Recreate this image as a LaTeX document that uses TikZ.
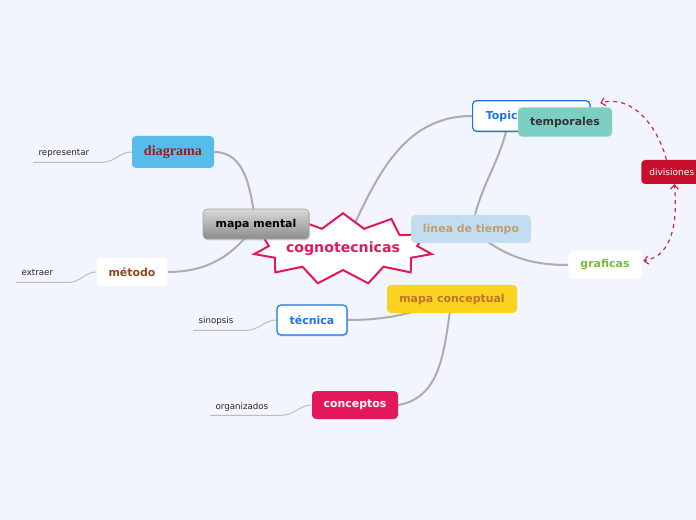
\documentclass[tikz,border=0pt]{standalone}
\usepackage{fontspec}
\setmainfont{DejaVu Sans}
\newfontfamily\timesbold{Liberation Serif}
\usepackage{tikz}
\usetikzlibrary{shapes.symbols, arrows.meta, shadows}

\pgfdeclarelayer{paper}
\pgfdeclarelayer{wires}
\pgfsetlayers{paper,wires,main}

\definecolor{pagebg}{HTML}{F2F5FE}
\definecolor{branchgray}{HTML}{ADADAD}
\definecolor{twiggray}{HTML}{BDBDBD}
\definecolor{rosered}{HTML}{E3185B}
\definecolor{skyblue}{HTML}{56BCEC}
\definecolor{darkred}{HTML}{9C1D1D}
\definecolor{rust}{HTML}{94461C}
\definecolor{topicblue}{HTML}{1A73E8}
\definecolor{tealbox}{HTML}{7ECFC3}
\definecolor{crimsonbox}{HTML}{C8102E}
\definecolor{paleblue}{HTML}{C3DDF0}
\definecolor{sandtext}{HTML}{C49C69}
\definecolor{leafgreen}{HTML}{7BBB3C}
\definecolor{sunyellow}{HTML}{F9D31F}
\definecolor{ochre}{HTML}{C0722B}
\definecolor{linkred}{HTML}{CC2A4E}

\tikzset{
  box/.style={rounded corners=3pt, inner sep=0pt, font=\bfseries\fontsize{8.2}{10}\selectfont},
  leaf/.style={anchor=base west, inner xsep=4pt, inner ysep=3pt, text depth=1.5pt,
    font=\fontsize{6.5}{8}\selectfont, text=black!85},
  branch/.style={draw=branchgray, line width=1.5pt},
  twig/.style={draw=twiggray, line width=0.75pt},
  link/.style={draw=linkred, dashed, line width=0.9pt, -{Straight Barb[length=3pt,width=6pt]}},
  lift/.style={drop shadow={opacity=0.3, shadow xshift=0.8pt, shadow yshift=-1pt}}
}

\begin{document}
\begin{tikzpicture}[x=0.75pt, y=-0.75pt]
            \begin{pgfonlayer}{paper}
            \fill[pagebg] (0,0) rectangle (696,520);
            \end{pgfonlayer}
            \useasboundingbox (0,0) rectangle (696,520);

            \node[starburst, starburst points=11, starburst point height=11pt, random starburst=0,
              inner xsep=-3pt, inner ysep=6pt, draw=rosered, line width=1.5pt, fill=white,
              text=rosered, font=\bfseries\fontsize{10.6}{12}\selectfont] (cogno) at (343,249) {cognotecnicas};

            \node[box, lift, top color=black!15, bottom color=black!45, draw=black!35,
              minimum width=79.5pt, minimum height=22.5pt] (mental) at (256,224) {mapa mental};
            \node[box, fill=skyblue, text=darkred, font=\timesbold\bfseries\fontsize{10.6}{12}\selectfont,
              minimum width=61.5pt, minimum height=24pt] (diagrama) at (173,152) {diagrama};
            \node[box, fill=white, text=rust, minimum width=53pt, minimum height=21pt] (metodo) at (132,272) {método};

            \node[box, lift, fill=white, draw=topicblue, line width=0.9pt, text=topicblue, anchor=west,
              inner xsep=10pt, text width=68pt, align=left, minimum height=23pt] (topic) at (472,116) {Topic};
            \node[box, fill=tealbox, text=black!80, minimum width=70.5pt, minimum height=22pt] (temporales) at (565,122) {temporales};
            \node[box, fill=crimsonbox, text=white, font=\fontsize{6.8}{9}\selectfont, anchor=west,
              inner xsep=6pt, minimum height=18pt] (divisiones) at (641,172) {divisiones};
            \node[box, fill=paleblue, text=sandtext, minimum width=90pt, minimum height=21pt] (linea) at (471,229) {linea de tiempo};
            \node[box, fill=white, text=leafgreen, minimum width=55pt, minimum height=21pt] (graficas) at (605,265) {graficas};

            \node[box, fill=sunyellow, text=ochre, minimum width=97.5pt, minimum height=21pt] (conceptual) at (452,299) {mapa conceptual};
            \node[box, lift, fill=white, draw=topicblue, line width=0.9pt, text=topicblue,
              minimum width=52.5pt, minimum height=22.5pt] (tecnica) at (312,320) {técnica};
            \node[box, fill=rosered, text=white, minimum width=64.5pt, minimum height=21pt] (conceptos) at (355,405) {conceptos};

            \node[leaf] (representar) at (33,156) {representar};
            \node[leaf] (extraer) at (16,276) {extraer};
            \node[leaf] (sinopsis) at (193,324) {sinopsis};
            \node[leaf] (organizados) at (210,409) {organizados};

            \begin{pgfonlayer}{wires}
            \path[branch]
            (mental.center) edge[out=100, in=0] (diagrama.east)
            (mental.center) edge[out=-125, in=0] (metodo.east)
            (cogno.center) edge[out=65, in=180] (topic.west)
            ([xshift=-19pt]topic.south) edge[out=-105, in=75] ([xshift=3pt]linea.north)
            (linea.center) edge[out=-40, in=180] (graficas.west)
            (conceptual.center) edge[out=200, in=0] (tecnica.east)
            (conceptual.center) edge[out=-100, in=10] (conceptos.east);

            \draw[twig] (representar.south west) -- ([xshift=6pt]representar.south east)
              to[out=0, in=180] (diagrama.west);
            \draw[twig] (extraer.south west) -- ([xshift=8pt]extraer.south east)
              to[out=0, in=180] (metodo.west);
            \draw[twig] (sinopsis.south west) -- ([xshift=6pt]sinopsis.south east)
              to[out=0, in=180] (tecnica.west);
            \draw[twig] (organizados.south west) -- ([xshift=6pt]organizados.south east)
              to[out=0, in=180] (conceptos.west);
            \end{pgfonlayer}

            \path[link]
            ([xshift=-4pt]divisiones.north) edge[out=105, in=15] ([xshift=-9pt, yshift=3pt]temporales.north east)
            ([xshift=2pt]divisiones.south) edge[out=-85, in=10] ([xshift=1pt, yshift=3pt]graficas.east);
        \end{tikzpicture}
\end{document}
